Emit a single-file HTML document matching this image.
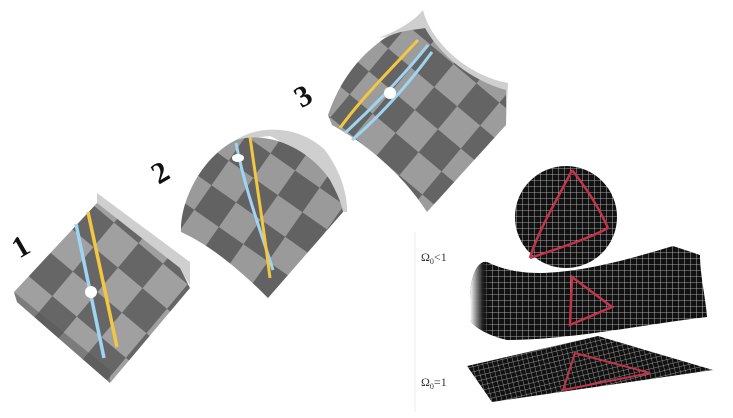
<!DOCTYPE html>
<html><head><meta charset="utf-8"><style>
html,body{margin:0;padding:0;background:#fff;width:733px;height:418px;overflow:hidden}
svg{display:block}
.lbl{font-family:"Liberation Serif",serif;font-weight:bold;font-size:30px;fill:#111}
.om{font-family:"Liberation Serif",serif;font-size:12px;fill:#333}
</style></head><body>
<svg width="733" height="418" viewBox="0 0 733 418">
<defs>
<pattern id="chk1" patternUnits="userSpaceOnUse" width="64" height="64" patternTransform="rotate(40 91 292)">
<rect width="64" height="64" fill="#a0a0a0"/><rect width="32" height="32" fill="#666"/><rect x="32" y="32" width="32" height="32" fill="#666"/></pattern>
<pattern id="chk2" patternUnits="userSpaceOnUse" width="60" height="60" patternTransform="rotate(35 250 200)">
<rect width="60" height="60" fill="#9a9a9a"/><rect width="30" height="30" fill="#626262"/><rect x="30" y="30" width="30" height="30" fill="#626262"/></pattern>
<pattern id="chk3" patternUnits="userSpaceOnUse" width="60" height="60" patternTransform="rotate(40 390 93)">
<rect width="60" height="60" fill="#9c9c9c"/><rect width="30" height="30" fill="#646464"/><rect x="30" y="30" width="30" height="30" fill="#646464"/></pattern>
<pattern id="grid" patternUnits="userSpaceOnUse" width="6" height="6">
<rect width="6" height="6" fill="#111"/><path d="M0 0H6M0 0V6" stroke="#ccc" stroke-width="0.8"/></pattern>
<pattern id="gridr" patternUnits="userSpaceOnUse" width="5" height="5" patternTransform="rotate(-14)">
<rect width="5" height="5" fill="#111"/><path d="M0 0H5M0 0V5" stroke="#bbb" stroke-width="0.7"/></pattern>
<linearGradient id="sadg" x1="0" x2="1" y1="0" y2="0"><stop offset="0" stop-color="#fff"/><stop offset="0.25" stop-color="#222" stop-opacity="0.9"/><stop offset="0.4" stop-color="#000" stop-opacity="0"/></linearGradient>
</defs>

<g>
<polygon points="97,193 190,262 190,285 180,270 97,205" fill="#cfcfcf"/>
<polygon points="14,292 97,203 180,268 190,288 110,383 17,302" fill="url(#chk1)"/>
<polygon points="14,292 17,302 110,383 110,370" fill="#555" opacity="0.5"/>
<line x1="76" y1="224" x2="104" y2="358" stroke="#9fd4f2" stroke-width="3.5"/>
<line x1="88" y1="212" x2="117" y2="347" stroke="#f3c741" stroke-width="3.5"/>
<circle cx="91" cy="292" r="6" fill="#fff"/>
</g>
<text class="lbl" x="14" y="256" transform="rotate(-30 22 248)">1</text>

<g>
<path d="M236,140 C260,124 300,126 325,150 C340,170 348,195 347,212 L340,212 C330,180 300,150 270,136 Z" fill="#cfcfcf"/>
<path d="M181,228 C182,195 205,155 236,140 C270,130 310,150 330,180 C338,195 342,205 343,212 L268,298 C240,270 210,245 181,232 Z" fill="url(#chk2)"/>
<path d="M236,143 C245,190 262,235 273,270" stroke="#9fd4f2" stroke-width="3" fill="none"/>
<path d="M250,137 C256,180 264,230 270,278" stroke="#f3c741" stroke-width="3" fill="none"/>
<ellipse cx="238" cy="158" rx="6" ry="4" fill="#fff"/>
</g>
<text class="lbl" x="153" y="180" transform="rotate(-30 165 172)">2</text>

<g>
<path d="M378,38 C400,30 415,20 423,10 C430,40 465,75 508,83 L506,125 C475,100 445,70 425,30 Z" fill="#cfcfcf"/>
<path d="M328,115 C340,80 360,55 385,38 C400,30 415,30 425,28 C440,55 470,80 506,90 L506,125 L427,212 C400,170 360,140 332,125 Z" fill="url(#chk3)"/>
<path d="M340,128 C360,100 390,70 418,40" stroke="#f3c741" stroke-width="3" fill="none"/>
<path d="M345,133 C370,110 400,80 428,45" stroke="#9fd4f2" stroke-width="3" fill="none"/>
<path d="M352,140 C378,118 408,85 432,52" stroke="#9fd4f2" stroke-width="3" fill="none"/>
<circle cx="390" cy="93" r="6" fill="#fff"/>
</g>
<text class="lbl" x="296" y="104" transform="rotate(-30 307 96)">3</text>

<g>
<line x1="415" y1="232" x2="415" y2="412" stroke="#eee" stroke-width="1"/>
<g>
<circle cx="566" cy="217" r="51" fill="url(#grid)"/>
<path d="M572,170 C560,195 538,230 530,258 M572,170 C588,190 600,210 608,228 M530,258 C560,248 590,238 608,228" stroke="#c2344a" stroke-width="2.5" fill="none"/>
</g>
<g>
<path d="M470,300 C470,275 478,260 487,262 C500,268 515,273 540,273 C580,272 620,262 673,246 L700,255 C700,275 706,300 707,317 C640,325 570,340 507,340 C485,335 472,325 470,320 Z" fill="url(#grid)"/>
<path d="M470,300 C470,275 478,260 487,262 L520,272 L507,340 C485,335 472,325 470,320 Z" fill="url(#sadg)"/>
<path d="M572,277 L570,325 L612,307 Z" stroke="#c2344a" stroke-width="2.5" fill="none"/>
</g>
<g>
<polygon points="467,366 598,336 713,370 492,402" fill="url(#gridr)"/>
<polygon points="575,353 563,390 650,373" stroke="#c2344a" stroke-width="2" fill="none"/>
</g>
<text class="om" x="421" y="261">Ω<tspan font-size="8" dy="3">0</tspan><tspan dy="-3">&lt;1</tspan></text>
<text class="om" x="421" y="386">Ω<tspan font-size="8" dy="3">0</tspan><tspan dy="-3">=1</tspan></text>
</g>
</svg>
</body></html>
